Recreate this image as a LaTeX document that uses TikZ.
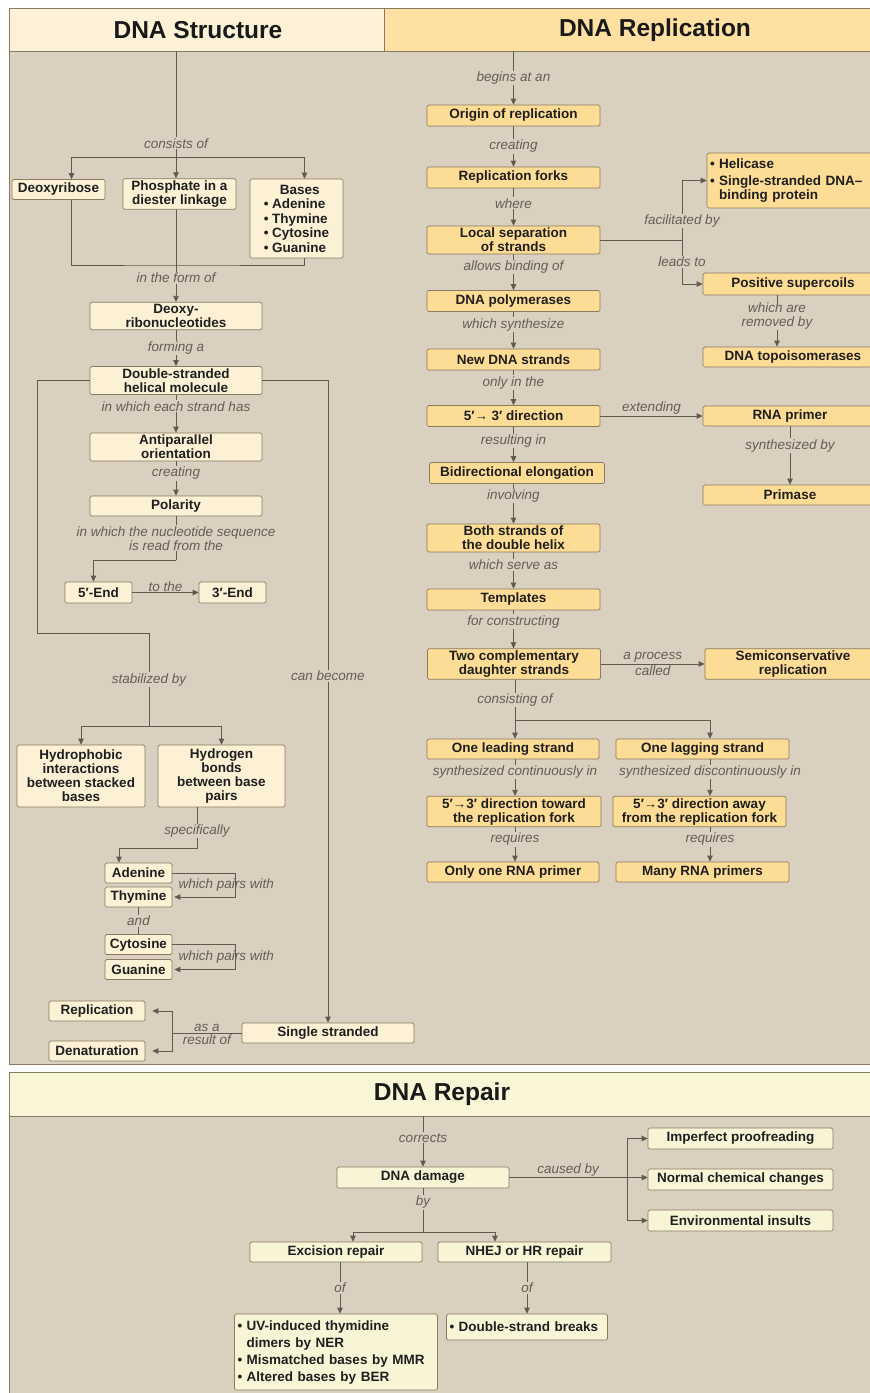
\documentclass[tikz,border=0pt]{standalone}
\usepackage{fontspec}
\setmainfont{Liberation Sans}
\usetikzlibrary{arrows.meta}
\definecolor{panelbg}{RGB}{217,208,192}
\definecolor{headstr}{RGB}{253,241,215}
\definecolor{headrep}{RGB}{254,224,162}
\definecolor{headfix}{RGB}{248,246,214}
\definecolor{boxstr}{RGB}{252,241,213}
\definecolor{boxrep}{RGB}{253,220,150}
\definecolor{boxfix}{RGB}{247,245,214}
\definecolor{rim}{RGB}{138,122,96}
\definecolor{wirecol}{RGB}{98,90,78}
\definecolor{labcol}{RGB}{100,94,85}
\newcommand\blt{\textbullet\ }

\begin{document}
\begin{tikzpicture}[x=1pt, y=-1pt,
    box/.style={draw=rim, line width=0.7pt, rounded corners=1.5pt, align=center, inner xsep=3pt, inner ysep=2pt,
        minimum height=21pt, text=black!88, font=\fontsize{13.5}{14}\selectfont\bfseries},
    sbox/.style={box, fill=boxstr},
    rbox/.style={box, fill=boxrep},
    pbox/.style={box, fill=boxfix},
    lab/.style={font=\fontsize{13.5}{14}\selectfont\itshape, text=labcol, fill=panelbg, inner sep=1pt, align=center},
    wire/.style={draw=wirecol, line width=0.8pt},
    arr/.style={wire, -{Triangle[length=6pt, width=5.5pt]}},
    head/.style={font=\fontsize{24.5}{24.5}\selectfont\bfseries, text=black!90}]
    \clip (0,0) rectangle (870,1393);
    \fill[white] (0,0) rectangle (870,1393);
    \fill[panelbg] (9,8) rectangle (872,1064);
    \fill[headstr] (9,8) rectangle (384,51);
    \fill[headrep] (384,8) rectangle (872,51);
    \draw[rim, line width=0.8pt] (9,8) rectangle (872,1064) (9,51) -- (872,51) (384,8) -- (384,51);
    \fill[panelbg] (9,1072) rectangle (872,1400);
    \fill[headfix] (9,1072) rectangle (872,1116);
    \draw[rim, line width=0.8pt] (9,1400) -- (9,1072) -- (872,1072) (9,1116) -- (872,1116);
    \node[head] (strhead) at (198,30) {DNA Structure};
    \node[head] (rephead) at (655,30) {DNA Replication};
    \node[head] (fixhead) at (442,1094) {DNA Repair};

    \node[sbox, minimum width=93pt, minimum height=20pt] (deoxy) at (58.5,189.5) {Deoxyribose};
    \node[sbox, minimum width=113pt] (phos) at (179.5,194) {Phosphate in a\\diester linkage};
    \node[sbox, minimum width=93pt, minimum height=79pt, align=left, font=\fontsize{13.5}{14.5}\selectfont\bfseries] (bases) at (296.5,218.5)
        {\hspace*{1.2em}Bases\\\blt Adenine\\\blt Thymine\\\blt Cytosine\\\blt Guanine};
    \node[sbox, minimum width=172pt] (nucl) at (176,316) {Deoxy-\\ribonucleotides};
    \node[sbox, minimum width=172pt] (helix) at (176,380.5) {Double-stranded\\helical molecule};
    \node[sbox, minimum width=172pt] (anti) at (176,447) {Antiparallel\\orientation};
    \node[sbox, minimum width=172pt, minimum height=20pt] (polar) at (176,506) {Polarity};
    \node[sbox, minimum width=67pt] (five) at (98.5,592.5) {5′-End};
    \node[sbox, minimum width=67pt] (three) at (232.5,592.5) {3′-End};
    \node[sbox, minimum width=128pt, minimum height=62pt] (hydro) at (81,776) {Hydrophobic\\interactions\\between stacked\\bases};
    \node[sbox, minimum width=127pt, minimum height=62pt] (hbond) at (221.5,776) {Hydrogen\\bonds\\between base\\pairs};
    \node[sbox, minimum width=67pt, minimum height=20pt] (ade) at (138.5,873) {Adenine};
    \node[sbox, minimum width=67pt, minimum height=20pt] (thy) at (138.5,897) {Thymine};
    \node[sbox, minimum width=67pt, minimum height=20pt] (cyt) at (138.5,944.5) {Cytosine};
    \node[sbox, minimum width=67pt, minimum height=20pt] (gua) at (138.5,969.5) {Guanine};
    \node[sbox, minimum width=172pt, minimum height=20pt] (single) at (328,1033) {Single stranded};
    \node[sbox, minimum width=96pt, minimum height=20pt] (repl) at (97,1011) {Replication};
    \node[sbox, minimum width=96pt, minimum height=20pt] (denat) at (97,1051) {Denaturation};

    \coordinate (strtop) at (176,51);
    \coordinate (cons) at (176,157);
    \coordinate (join) at (176,265);
    \coordinate (readpt) at (176,560);
    \coordinate (stabtop) at (149,633);
    \coordinate (stabfork) at (149,726);
    \coordinate (spec) at (119,848);
    \coordinate (asa) at (172,1033);
    \draw[wire] (strtop) -- node[lab, pos=0.87]{consists of} (cons);
    \draw[arr] (cons) -| ([xshift=13pt]deoxy.north);
    \draw[arr] (cons) -- (cons |- phos.north);
    \draw[arr] (cons) -| ([xshift=8pt]bases.north);
    \draw[wire] ([xshift=13pt]deoxy.south) |- (join) -| ([xshift=8pt]bases.south);
    \draw[arr] (cons |- phos.south) -- node[lab, pos=0.74]{in the form of} (nucl);
    \draw[arr] (nucl) -- node[lab]{forming a} (helix);
    \draw[arr] (helix) -- node[lab, pos=0.3]{in which each strand has} (anti);
    \draw[arr] (anti) -- node[lab, pos=0.35]{creating} (polar);
    \draw[wire] (polar) -- node[lab]{in which the nucleotide sequence\\is read from the} (readpt);
    \draw[arr] (readpt) -| ([xshift=-5pt]five.north);
    \draw[arr] (five) -- node[lab, above, fill=none, inner sep=0.5pt]{to the} (three);
    \draw[wire] (helix.west) -| ([xshift=-112pt]stabtop) -- (stabtop) -- node[lab]{stabilized by} (stabfork);
    \draw[arr] (stabfork) -| (hydro.north);
    \draw[arr] (stabfork) -| (hbond.north);
    \draw[wire] ([xshift=-24.5pt]hbond.south) |- node[lab, pos=0.29]{specifically} (spec);
    \draw[arr] (spec) -- (spec |- ade.north);
    \draw[arr, shorten >=2pt] (ade.east) -- ++(63,0) |- node[lab, fill=none, pos=0.25, xshift=-9pt]{which pairs with} (thy.east);
    \draw[wire] (thy) -- node[lab]{and} (cyt);
    \draw[arr, shorten >=2pt] (cyt.east) -- ++(63,0) |- node[lab, fill=none, pos=0.25, xshift=-9pt]{which pairs with} (gua.east);
    \draw[arr] (helix.east) -| node[lab, pos=0.73]{can become} (single.north);
    \draw[wire] (single.west) -- node[lab, above, fill=none]{as a} node[lab, below, fill=none]{result of} (asa);
    \draw[arr, shorten >=7pt] (asa) |- (repl.east);
    \draw[arr, shorten >=7pt] (asa) |- (denat.east);

    \node[rbox, minimum width=173pt] (ori) at (513.5,115.5) {Origin of replication};
    \node[rbox, minimum width=173pt] (fork) at (513.5,177.5) {Replication forks};
    \node[rbox, minimum width=173pt] (sep) at (513.5,240) {Local separation\\of strands};
    \node[rbox, minimum width=173pt] (poly) at (513.5,301) {DNA polymerases};
    \node[rbox, minimum width=173pt] (newdna) at (513.5,359.5) {New DNA strands};
    \node[rbox, minimum width=173pt] (dir) at (513.5,416) {5′→ 3′ direction};
    \node[rbox, minimum width=175pt] (bidir) at (517,473) {Bidirectional elongation};
    \node[rbox, minimum width=173pt] (both) at (513.5,538) {Both strands of\\the double helix};
    \node[rbox, minimum width=173pt] (templ) at (513.5,599.5) {Templates};
    \node[rbox, minimum width=173pt] (daught) at (514,664) {Two complementary\\daughter strands};
    \node[rbox, text width=162pt, minimum height=55pt, align=left, font=\fontsize{13.5}{14}\selectfont\bfseries] (heli) at (791,180.5)
        {\blt Helicase\\[3pt]\blt Single-stranded DNA–\\\hphantom{\blt}binding protein};
    \node[rbox, minimum width=180pt, minimum height=22pt] (super) at (793,284) {Positive supercoils};
    \node[rbox, minimum width=180pt, minimum height=20pt] (topo) at (793,357) {DNA topoisomerases};
    \node[rbox, minimum width=174pt, minimum height=20pt] (rna) at (790,416) {RNA primer};
    \node[rbox, minimum width=174pt, minimum height=20pt] (prim) at (790,495) {Primase};
    \node[rbox, minimum width=176pt] (semi) at (793,664) {Semiconservative\\replication};
    \node[rbox, minimum width=172pt, minimum height=20pt] (lead) at (513,749) {One leading strand};
    \node[rbox, minimum width=173pt, minimum height=20pt] (lag) at (702.5,749) {One lagging strand};
    \node[rbox, minimum width=174pt] (toward) at (514,811.5) {5′→3′ direction toward\\the replication fork};
    \node[rbox, minimum width=173pt] (away) at (699.5,811.5) {5′→3′ direction away\\from the replication fork};
    \node[rbox, minimum width=172pt, minimum height=20pt] (one) at (513,872) {Only one RNA primer};
    \node[rbox, minimum width=173pt, minimum height=20pt] (many) at (702.5,872) {Many RNA primers};

    \coordinate (reptop) at (513.5,51);
    \coordinate (facil) at (682,240);
    \coordinate (consist) at (515,720);
    \draw[arr] (reptop) -- node[lab]{begins at an} (ori);
    \draw[arr] (ori) -- node[lab]{creating} (fork);
    \draw[arr] (fork) -- node[lab, pos=0.4]{where} (sep);
    \draw[arr] (sep) -- node[lab, pos=0.35]{allows binding of} (poly);
    \draw[arr] (poly) -- node[lab, pos=0.35]{which synthesize} (newdna);
    \draw[arr] (newdna) -- node[lab, pos=0.35]{only in the} (dir);
    \draw[arr] (dir) -- node[lab, pos=0.4]{resulting in} (dir |- bidir.north);
    \draw[arr] (dir |- bidir.south) -- node[lab, pos=0.3]{involving} (both);
    \draw[arr] (both) -- node[lab, pos=0.35]{which serve as} (templ);
    \draw[arr] (templ) -- node[lab, pos=0.3]{for constructing} (templ |- daught.north);
    \draw[wire] (sep) -- (facil);
    \draw[arr] (facil) |- node[lab, pos=0.16]{facilitated by} (heli.west);
    \draw[arr] (facil) |- node[lab, pos=0.25]{leads to} (super.west);
    \draw[arr] ([xshift=-16pt]super.south) -- node[lab, pos=0.4]{which are\\removed by} ([xshift=-16pt]topo.north);
    \draw[arr] (dir) -- node[lab, above, fill=none]{extending} (rna);
    \draw[arr] (rna) -- node[lab, pos=0.33]{synthesized by} (prim);
    \draw[arr] (daught) -- node[lab, above, fill=none]{a process} node[lab, below, fill=none]{called} (semi);
    \draw[wire] (daught.south -| consist) -- node[lab]{consisting of} (consist);
    \draw[arr] (consist) -- (consist |- lead.north);
    \draw[arr] (consist) -| ([xshift=7.5pt]lag.north);
    \draw[arr] (consist |- lead.south) -- node[lab, pos=0.35]{synthesized continuously in} (consist |- toward.north);
    \draw[arr] ([xshift=7.5pt]lag.south) -- node[lab, pos=0.35]{synthesized discontinuously in} ([xshift=10.5pt]away.north);
    \draw[arr] (consist |- toward.south) -- node[lab, pos=0.35]{requires} (consist |- one.north);
    \draw[arr] ([xshift=10.5pt]away.south) -- node[lab, pos=0.35]{requires} ([xshift=7.5pt]many.north);

    \node[pbox, minimum width=172pt] (dmg) at (423,1177.5) {DNA damage};
    \node[pbox, minimum width=185pt] (proof) at (740.5,1138.5) {Imperfect proofreading};
    \node[pbox, minimum width=185pt] (chem) at (740.5,1179.5) {Normal chemical changes};
    \node[pbox, minimum width=185pt] (env) at (740.5,1220.5) {Environmental insults};
    \node[pbox, minimum width=172pt, minimum height=20pt] (exc) at (336,1252) {Excision repair};
    \node[pbox, minimum width=173pt, minimum height=20pt] (nhej) at (524.5,1252) {NHEJ or HR repair};
    \node[pbox, text width=197pt, minimum height=76pt, align=left, font=\fontsize{13.5}{17}\selectfont\bfseries] (uv) at (336,1352)
        {\blt UV-induced thymidine\\\hphantom{\blt}dimers by NER\\\blt Mismatched bases by MMR\\\blt Altered bases by BER};
    \node[pbox, text width=155pt, minimum height=26pt, align=left] (dsb) at (527,1327) {\blt Double-strand breaks};

    \coordinate (fixtop) at (423,1116);
    \coordinate (cause) at (627,1177.5);
    \coordinate (byfork) at (423,1232);
    \draw[arr] (fixtop) -- node[lab, pos=0.43]{corrects} (dmg);
    \draw[wire] (dmg) -- node[lab, above, fill=none]{caused by} (cause);
    \draw[arr] (cause) |- (proof.west);
    \draw[arr] (cause) -- (chem.west |- cause);
    \draw[arr] (cause) |- (env.west);
    \draw[wire] (dmg) -- node[lab, pos=0.32]{by} (byfork);
    \draw[arr] (byfork) -| ([xshift=17pt]exc.north);
    \draw[arr] (byfork) -| ([xshift=-29.5pt]nhej.north);
    \draw[arr] ([xshift=4pt]exc.south) -- node[lab]{of} ([xshift=4pt]uv.north);
    \draw[arr] (nhej.south -| dsb.north) -- node[lab]{of} (dsb.north);
\end{tikzpicture}
\end{document}
